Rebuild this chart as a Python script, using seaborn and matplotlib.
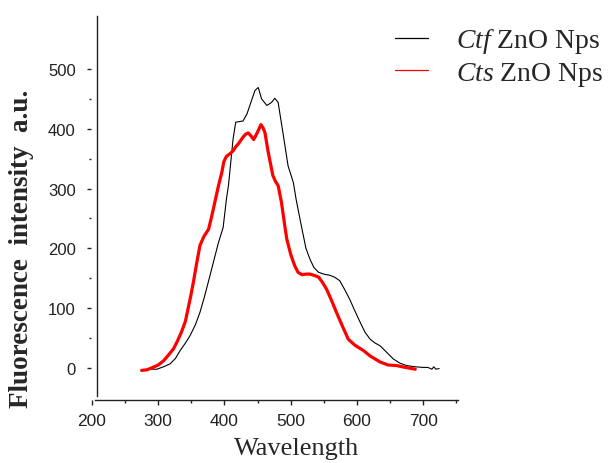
import numpy as np
import pandas as pd
import matplotlib
matplotlib.use("Agg")
import matplotlib.pyplot as plt
import seaborn as sns

# Fluorescence emission spectra of the two ZnO nanoparticle samples
ctf_wavelength = [275, 290, 298, 308, 318, 326, 333, 340, 348, 356, 363, 370, 378,
                  384, 391, 398, 403, 406, 413, 417, 428, 434, 438, 446, 451, 456,
                  464, 471, 476, 481, 489, 496, 504, 508, 514, 518, 523, 529, 535,
                  542, 550, 559, 566, 574, 581, 589, 597, 605, 612, 620, 627, 635,
                  645, 655, 665, 675, 688, 700, 707, 713, 716, 719, 724]
ctf_intensity = [-3, -2, -2, 2, 7, 16, 29, 40, 54, 72, 93, 120, 154,
                 180, 210, 235, 283, 305, 383, 411, 413, 425, 438, 464, 469, 450,
                 439, 444, 451, 444, 388, 338, 310, 283, 249, 227, 200, 182, 168,
                 160, 157, 155, 152, 146, 132, 115, 95, 76, 60, 48, 42, 37,
                 26, 15, 8, 4, 2, 1, 1, -2, 2, -2, -1]

cts_wavelength = [275, 283, 292, 300, 308, 315, 323, 329, 335, 341, 345, 349, 353,
                  358, 363, 369, 376, 381, 386, 391, 396, 399, 403, 408, 413, 417,
                  421, 428, 432, 436, 440, 444, 447, 451, 455, 458, 461, 466, 473,
                  477, 481, 486, 491, 494, 500, 506, 511, 517, 523, 529, 535, 542,
                  548, 554, 562, 569, 578, 587, 597, 610, 620, 635, 647, 660, 673, 688]
cts_intensity = [-4, -3, 1, 5, 12, 21, 32, 45, 60, 78, 99, 120, 143,
                 175, 205, 220, 232, 255, 280, 305, 327, 345, 354, 358, 363, 370,
                 375, 386, 391, 393, 388, 382, 388, 397, 407, 402, 394, 361, 322,
                 312, 305, 277, 238, 216, 190, 171, 160, 156, 157, 157, 155, 152,
                 143, 132, 112, 93, 70, 48, 38, 29, 20, 10, 5, 4, 1, -2]

series_labels = [r"$\mathit{Ctf}$ ZnO Nps", r"$\mathit{Cts}$ ZnO Nps"]
x_ticks = [200, 300, 400, 500, 600, 700]
y_ticks = [0, 100, 200, 300, 400, 500]

ctf = pd.DataFrame({"Wavelength": ctf_wavelength, "Intensity": ctf_intensity})
cts = pd.DataFrame({"Wavelength": cts_wavelength, "Intensity": cts_intensity})

sns.set_style("ticks")
plt.rcParams["font.family"] = ["Liberation Sans", "DejaVu Sans"]
plt.rcParams["mathtext.fontset"] = "custom"
plt.rcParams["mathtext.rm"] = "Liberation Serif"
plt.rcParams["mathtext.it"] = "Liberation Serif:italic"

fig = plt.figure(figsize=(6.11, 4.64), dpi=100)
ax = fig.add_axes([0.1489, 0.1358, 0.6007, 0.8276])

sns.lineplot(data=ctf, x="Wavelength", y="Intensity", ax=ax, color="black",
             linewidth=0.8, label=series_labels[0])
sns.lineplot(data=cts, x="Wavelength", y="Intensity", ax=ax, color="#ff0000",
             linewidth=2.3, label=series_labels[1])

ax.set_xlim(198.5, 752.5)
ax.set_ylim(-53.5, 588.6)
ax.set_xticks(x_ticks)
ax.set_xticks([250, 350, 450, 550, 650, 750], minor=True)
ax.set_yticks(y_ticks)
ax.set_yticks([50, 150, 250, 350, 450], minor=True)

# Axis lines: bottom line starts just right of the 200 tick, the vertical
# line sits slightly right of the y tick marks
ax.spines["top"].set_visible(False)
ax.spines["left"].set_visible(False)
ax.spines["bottom"].set_bounds(205, 752.5)
ax.spines["bottom"].set_linewidth(1.0)
ax.spines["right"].set_position(("axes", 0.0163))
ax.spines["right"].set_bounds(-47, 588.6)
ax.spines["right"].set_linewidth(1.0)
ax.spines["right"].set_color("#222222")
ax.spines["bottom"].set_color("#222222")

ax.tick_params(axis="x", which="major", direction="out", length=3.5, width=1,
               labelsize=12.5, pad=6, colors="#222222")
ax.tick_params(axis="x", which="minor", direction="out", length=2, width=1,
               colors="#222222")
ax.tick_params(axis="y", which="major", direction="out", length=3, width=1,
               labelsize=12, pad=8, colors="#222222", left=True, right=False)
ax.tick_params(axis="y", which="minor", direction="out", length=1.5, width=1,
               left=True, right=False, colors="#222222")

ax.set_xlabel("Wavelength", fontfamily="Liberation Serif", fontsize=19)
ax.xaxis.set_label_coords(0.561, -0.096)
ax.set_ylabel("Fluorescence  intensity  a.u.", fontfamily="Liberation Serif",
              fontsize=19.5, fontweight="bold")
ax.yaxis.set_label_coords(-0.19, 0.396)
ax.yaxis.label.set_verticalalignment("center")

leg = ax.legend(loc="upper left", bbox_to_anchor=(0.6465, 0.941),
                bbox_transform=fig.transFigure, frameon=False,
                prop={"family": "Liberation Serif", "size": 20},
                handlelength=1.2, handletextpad=1.0, labelspacing=0.15,
                borderpad=0, borderaxespad=0)
for h in leg.get_lines():
    h.set_linewidth(0.9)

fig.savefig("out.png", dpi=100)
